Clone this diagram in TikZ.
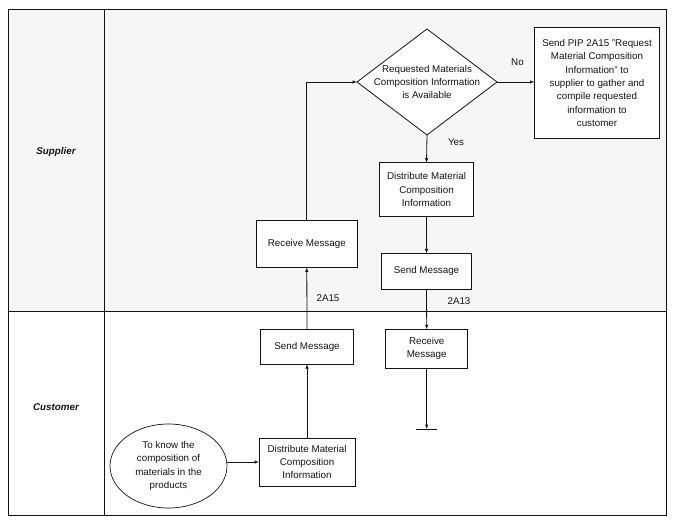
\documentclass[tikz,border=0pt]{standalone}
\usepackage{fontspec}
\setmainfont{Liberation Sans}
\usetikzlibrary{shapes.geometric,arrows.meta}
\definecolor{lanegray}{RGB}{246,246,246}
\definecolor{ink}{RGB}{20,20,20}
\tikzset{
  every node/.style={font=\fontsize{9.8}{13.3}\selectfont, text=ink},
  procbox/.style={draw=ink, line width=0.8pt, fill=white, rectangle, align=center, inner sep=0pt, outer sep=0pt},
  decbox/.style={draw=ink, line width=0.8pt, fill=white, diamond, inner sep=0pt, outer sep=0pt, minimum width=140pt, minimum height=106pt},
  startell/.style={draw=ink, line width=0.7pt, fill=white, ellipse, align=center, inner sep=0pt, outer sep=0pt, minimum width=117pt, minimum height=84pt},
  txt/.style={align=center, inner sep=0pt},
  lanelabel/.style={font=\fontsize{9.8}{12}\selectfont\bfseries\itshape, inner sep=0pt},
  arr/.style={draw=ink, line width=0.8pt, -{Latex[length=4.5pt,width=3.5pt]}},
  plain/.style={draw=ink, line width=0.8pt},
}
\begin{document}
\begin{tikzpicture}[x=1pt,y=-1pt]
\useasboundingbox (0,0) rectangle (674,525);
% lanes
\fill[lanegray] (8.5,9.5) rectangle (666,311.5);
\draw[plain] (8.5,9.5) rectangle (666,515);
\draw[plain] (104.5,9.5) -- (104.5,515);
\draw[plain] (8.5,311.5) -- (666,311.5);
\node[lanelabel] (lsup) at (56,152) {Supplier};
\node[lanelabel] (lcus) at (56,407) {Customer};
% supplier nodes
\node[decbox] (dia) at (427,82) {};
\node[txt] (diatext) at (dia.center) {Requested Materials\\Composition Information\\is Available};
\node[procbox, minimum width=125pt, minimum height=111pt] (rbox) at (597,83)
  {Send PIP 2A15 "Request\\Material Composition\\Information” to\\supplier to gather and\\compile requested\\information to\\customer};
\node[procbox, minimum width=94pt, minimum height=53.5pt] (sdist) at (426.5,189.5) {Distribute Material\\Composition\\Information};
\node[procbox, minimum width=89.5pt, minimum height=35.5pt] (ssend) at (426.5,271.2) {Send Message};
\node[procbox, minimum width=101.5pt, minimum height=47.3pt] (srecv) at (306.8,243.7) {Receive Message};
% customer nodes
\node[procbox, minimum width=92.6pt, minimum height=34.7pt] (csend) at (307,346.7) {Send Message};
\node[procbox, minimum width=82pt, minimum height=38.7pt] (crecv) at (426.7,348.7) {Receive\\Message};
\node[procbox, minimum width=96pt, minimum height=48pt] (cdist) at (307,462) {Distribute Material\\Composition\\Information};
\node[startell] (ell) at (168.5,466) {To know the\\composition of\\materials in the\\products};
\coordinate (endpt) at (426.7,429);
% connectors
\draw[arr] (ell.east |- cdist.west) -- (cdist.west);
\draw[arr] (cdist.north) -- (csend.south);
\draw[arr] (csend.north) -- (srecv.south);
\draw[arr] (srecv.north) |- (dia.west);
\draw[arr] (dia.east) -- (rbox.west |- dia.east);
\draw[arr] (dia.south) -- (sdist.north);
\draw[arr] (sdist.south) -- (ssend.north);
\draw[arr] (ssend.south) -- (crecv.north);
\draw[arr] (crecv.south) -- (endpt);
\draw[plain] ([xshift=-10.5pt]endpt) -- ([xshift=10.5pt]endpt);
% labels
\node[txt] (lno) at (517.5,62) {No};
\node[txt] (lyes) at (456,142) {Yes};
\node[txt] (l15) at (328,298.5) {2A15};
\node[txt] (l13) at (459,301) {2A13};
\end{tikzpicture}
\end{document}
